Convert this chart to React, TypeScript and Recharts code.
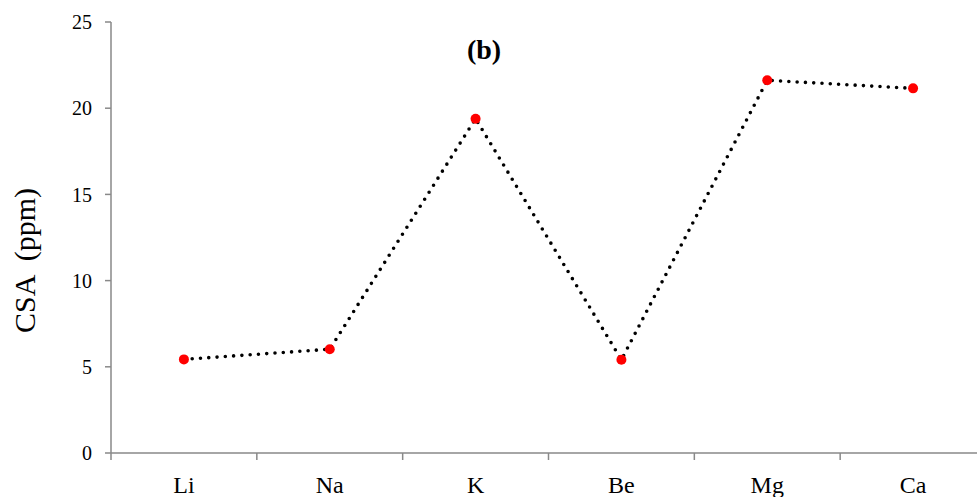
import { Label, Line, LineChart, XAxis, YAxis } from 'recharts';

// Élements alcalins / alcalino-terreux — CSA (b)
const ELEMENTS = ['Li', 'Na', 'K', 'Be', 'Mg', 'Ca'];
const CSA_PPM = [5.43, 6.02, 19.39, 5.41, 21.62, 21.15];
const Y_TICKS = [0, 5, 10, 15, 20, 25];

const data = ELEMENTS.map((el, i) => ({ el, csa: CSA_PPM[i] }));

const AXE = '#898989';
const SERIF = '"Liberation Serif", "Times New Roman", serif';
const LARGEUR = 986;
const GAUCHE = 111;
const BANDE = (LARGEUR - GAUCHE) / ELEMENTS.length;

// étiquette de catégorie + petit trait à la frontière gauche de la bande
function TickCategorie(props: any) {
  const { x, y, payload } = props;
  return (
    <g>
      <line x1={x - BANDE / 2} y1={y} x2={x - BANDE / 2} y2={y + 7} stroke={AXE} strokeWidth={1.5} />
      <text x={x} y={y + 40} textAnchor="middle" fontFamily={SERIF} fontSize={24} fill="#000">
        {payload.value}
      </text>
    </g>
  );
}

export default function App() {
  return (
    <div
      style={{
        position: 'fixed',
        left: 0,
        top: 0,
        width: 977,
        height: 497,
        overflow: 'hidden',
        background: '#fff',
      }}
    >
      <LineChart width={LARGEUR} height={497} data={data} margin={{ top: 22, right: 0, bottom: 0, left: 0 }}>
        <XAxis
          dataKey="el"
          height={44}
          padding={{ left: BANDE / 2, right: BANDE / 2 }}
          tickLine={false}
          tickSize={0}
          tickMargin={0}
          tick={<TickCategorie />}
          axisLine={{ stroke: AXE, strokeWidth: 1.5 }}
          interval={0}
        />
        <YAxis
          width={GAUCHE}
          domain={[0, 25]}
          ticks={Y_TICKS}
          tickSize={6}
          tickMargin={13}
          axisLine={{ stroke: AXE, strokeWidth: 1.5 }}
          tickLine={{ stroke: AXE, strokeWidth: 1.5 }}
          tick={{ fill: '#000', fontSize: 20, fontFamily: SERIF }}
        >
          <Label
            content={(p: any) => {
              const vb = p.viewBox;
              const cy = vb.y + vb.height / 2 + 23;
              return (
                <text
                  x={24}
                  y={cy}
                  transform={`rotate(-90 24 ${cy})`}
                  textAnchor="middle"
                  dominantBaseline="central"
                  fontFamily={SERIF}
                  fontSize={30}
                  fill="#000"
                  style={{ whiteSpace: 'pre' }}
                >
                  {'CSA  (ppm)'}
                </text>
              );
            }}
          />
        </YAxis>
        <Line
          dataKey="csa"
          stroke="#000"
          strokeWidth={3.6}
          strokeDasharray="0 8.3"
          strokeLinecap="round"
          dot={{ r: 5, fill: '#ff0000', stroke: 'none' }}
          activeDot={false}
          isAnimationActive={false}
        />
      </LineChart>
      <div
        style={{
          position: 'absolute',
          left: 434,
          top: 34,
          width: 100,
          textAlign: 'center',
          fontFamily: SERIF,
          fontSize: 28,
          fontWeight: 'bold',
          lineHeight: '32px',
        }}
      >
        (b)
      </div>
    </div>
  );
}
